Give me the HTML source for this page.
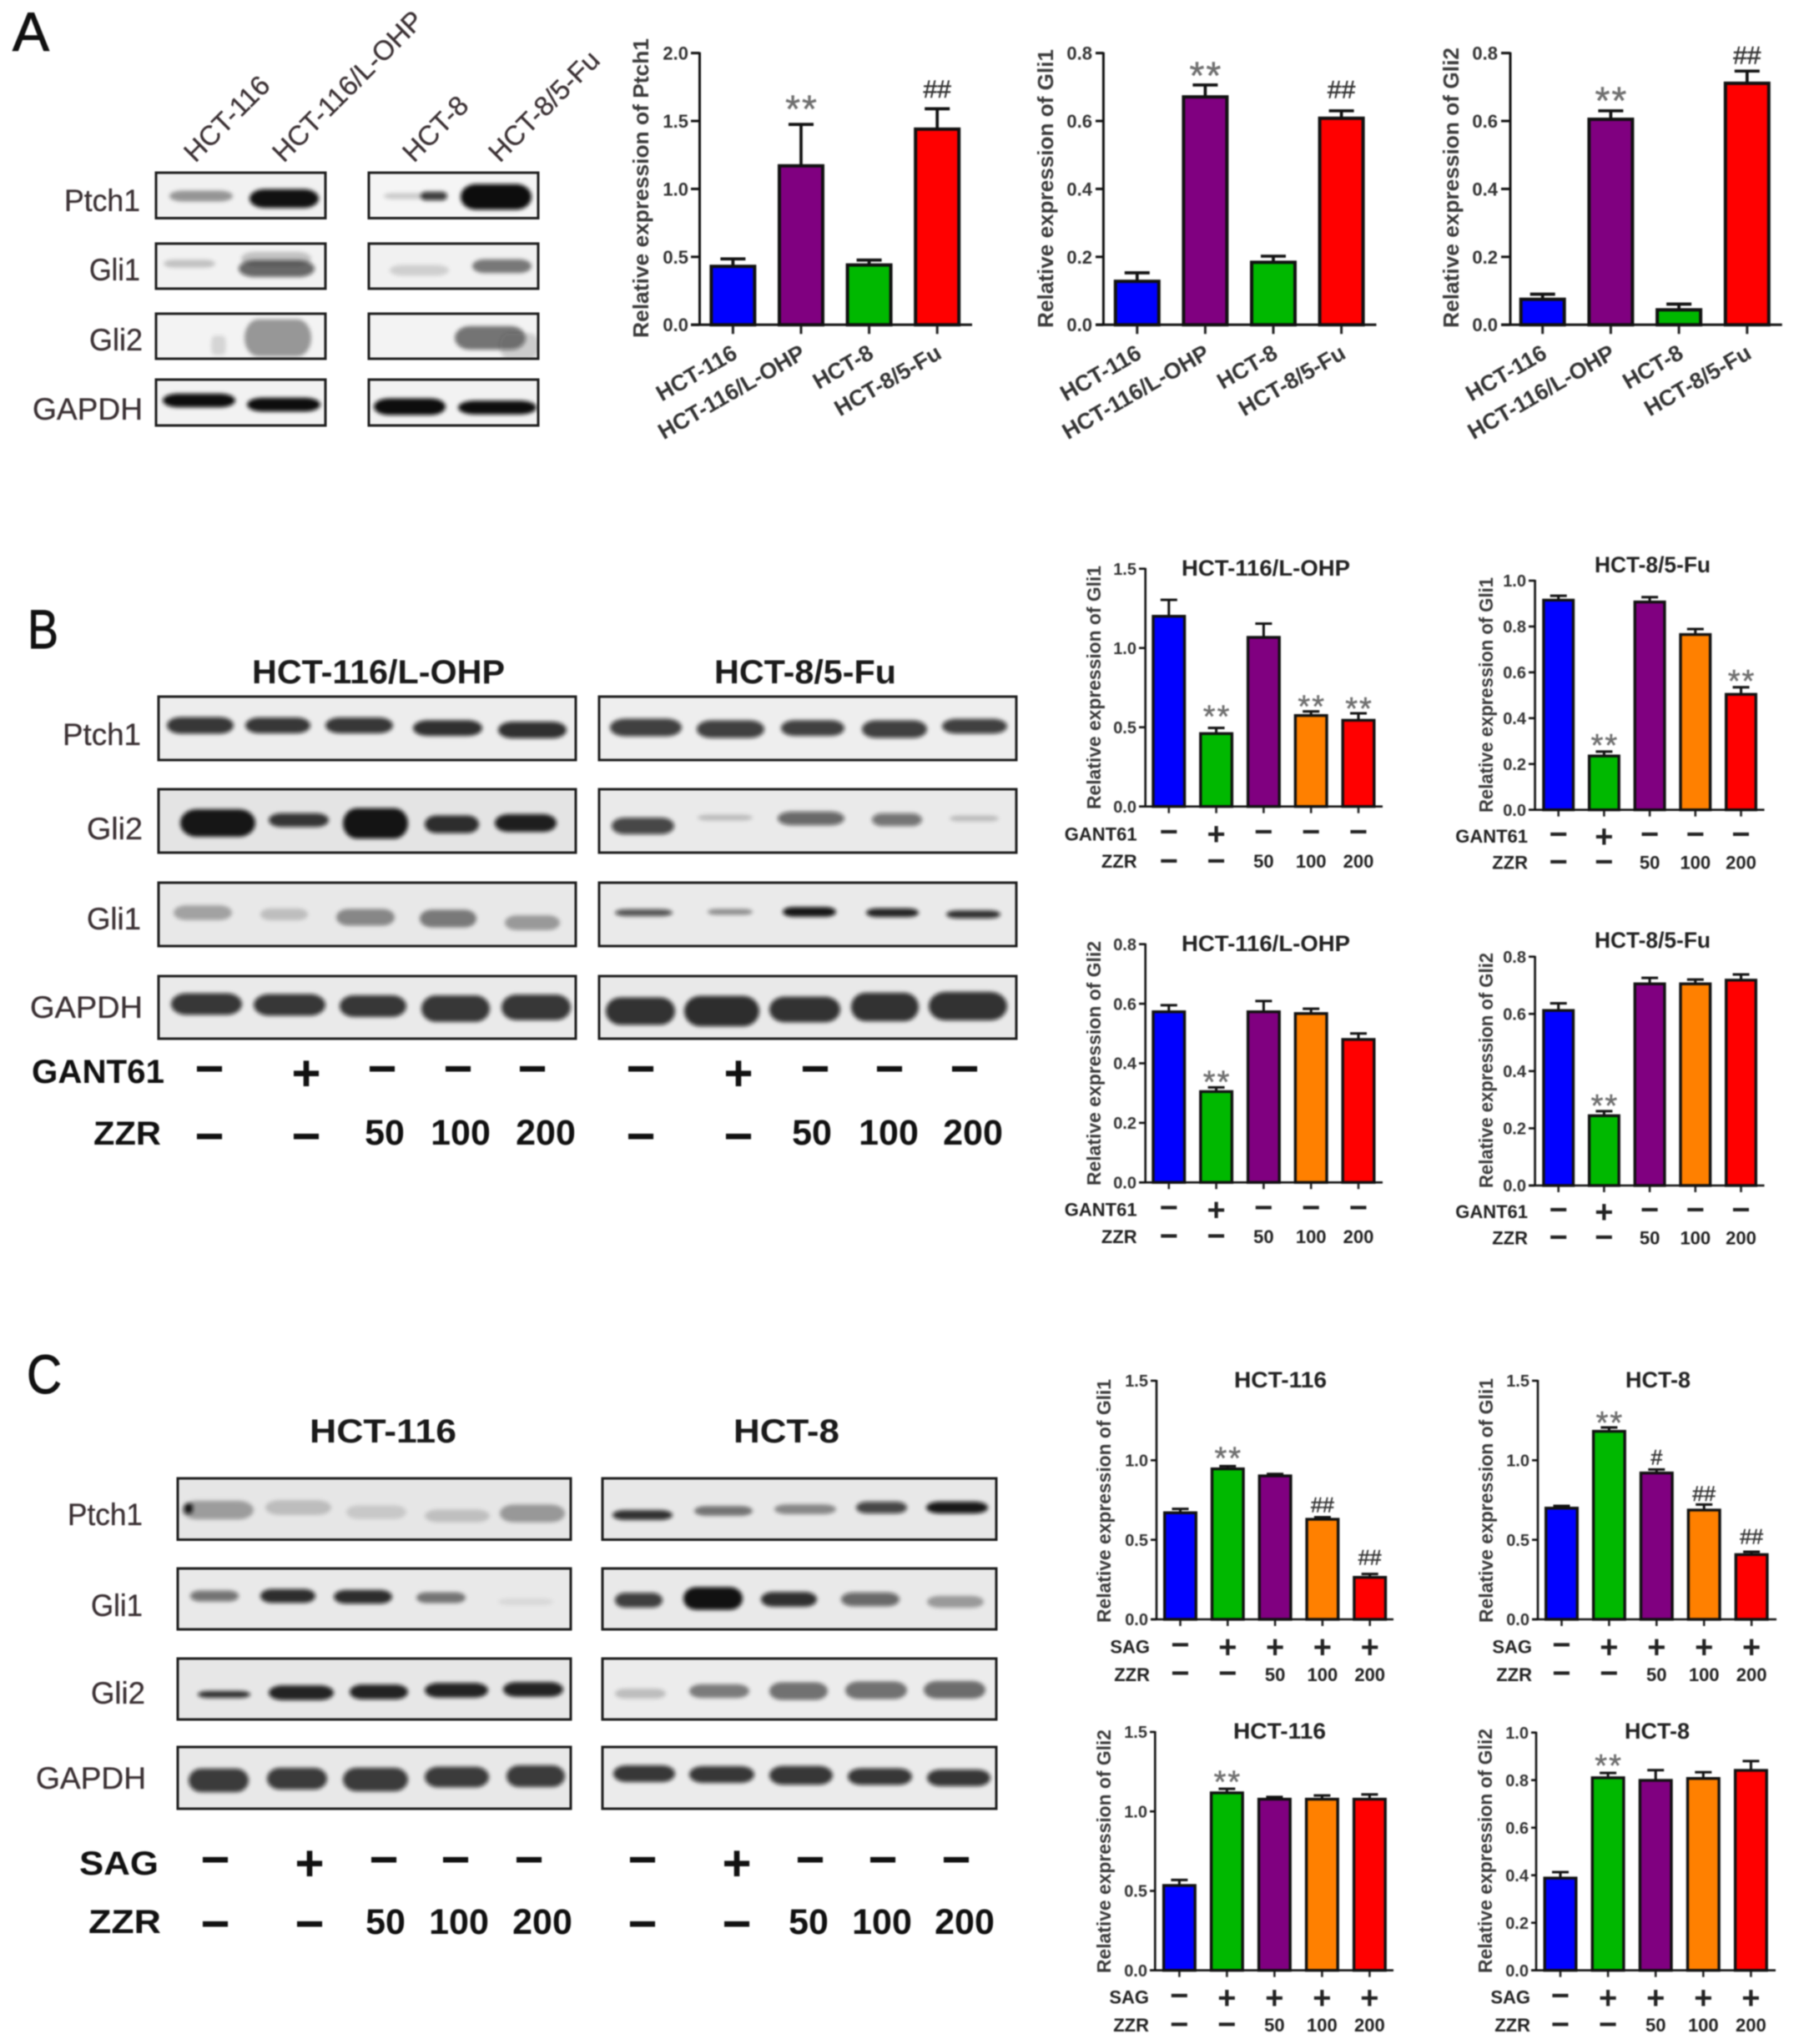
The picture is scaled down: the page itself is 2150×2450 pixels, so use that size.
<!DOCTYPE html>
<html lang="en">
<head>
<meta charset="utf-8">
<title>Western blots and relative expression bar charts</title>
<style>
html,body{margin:0;padding:0;background:#fff;}
#figure{display:block;width:2150px;height:2450px;background:#fff;filter:blur(0.8px);font-family:"Liberation Sans",sans-serif;}
text{font-family:"Liberation Sans",sans-serif;}
.letter{font-size:66px;fill:#111;stroke:#111;stroke-width:1;}
.row{font-size:37px;fill:#3a3033;stroke:#3a3033;stroke-width:.3;}
.lane{font-size:33px;fill:#3a3033;stroke:#3a3033;stroke-width:.3;}
.head{font-size:40px;font-weight:bold;fill:#1a1a1a;}
.treat{font-size:40px;font-weight:bold;fill:#111;}
</style>
</head>
<body>
<svg id="figure" xmlns="http://www.w3.org/2000/svg" width="2150" height="2450" viewBox="0 0 2150 2450">
<defs>
<filter id="soft" x="-10%" y="-100%" width="120%" height="300%"><feGaussianBlur stdDeviation="2.3"/></filter>
</defs>
<rect x="0" y="0" width="2150" height="2450" fill="#fff"/>

<text class="letter" x="15" y="61" textLength="44" lengthAdjust="spacingAndGlyphs">A</text>
<text class="letter" x="33" y="777" textLength="37" lengthAdjust="spacingAndGlyphs">B</text>
<text class="letter" x="32" y="1670" textLength="42" lengthAdjust="spacingAndGlyphs">C</text>

<text class="lane" transform="translate(234 196) rotate(-45)">HCT-116</text>
<text class="lane" transform="translate(340 196) rotate(-45)">HCT-116/L-OHP</text>
<text class="lane" transform="translate(496 196) rotate(-45)">HCT-8</text>
<text class="lane" transform="translate(599 196) rotate(-45)">HCT-8/5-Fu</text>

<text class="row" x="77" y="253" textLength="91" lengthAdjust="spacingAndGlyphs">Ptch1</text>
<text class="row" x="107" y="336" textLength="61" lengthAdjust="spacingAndGlyphs">Gli1</text>
<text class="row" x="107" y="420" textLength="64" lengthAdjust="spacingAndGlyphs">Gli2</text>
<text class="row" x="39" y="503" textLength="132" lengthAdjust="spacingAndGlyphs">GAPDH</text>

<text class="head" x="302" y="819" textLength="303" lengthAdjust="spacingAndGlyphs">HCT-116/L-OHP</text>
<text class="head" x="856" y="819" textLength="218" lengthAdjust="spacingAndGlyphs">HCT-8/5-Fu</text>
<text class="row" x="75" y="893" textLength="94" lengthAdjust="spacingAndGlyphs">Ptch1</text>
<text class="row" x="104" y="1006" textLength="67" lengthAdjust="spacingAndGlyphs">Gli2</text>
<text class="row" x="104" y="1114" textLength="65" lengthAdjust="spacingAndGlyphs">Gli1</text>
<text class="row" x="36" y="1220" textLength="135" lengthAdjust="spacingAndGlyphs">GAPDH</text>
<text class="treat" x="38" y="1298" textLength="159" lengthAdjust="spacingAndGlyphs">GANT61</text>
<text class="treat" x="112" y="1372" textLength="81" lengthAdjust="spacingAndGlyphs">ZZR</text>

<text class="head" x="371" y="1729" textLength="176" lengthAdjust="spacingAndGlyphs">HCT-116</text>
<text class="head" x="879" y="1729" textLength="127" lengthAdjust="spacingAndGlyphs">HCT-8</text>
<text class="row" x="81" y="1828" textLength="90" lengthAdjust="spacingAndGlyphs">Ptch1</text>
<text class="row" x="109" y="1937" textLength="62" lengthAdjust="spacingAndGlyphs">Gli1</text>
<text class="row" x="109" y="2042" textLength="65" lengthAdjust="spacingAndGlyphs">Gli2</text>
<text class="row" x="43" y="2144" textLength="132" lengthAdjust="spacingAndGlyphs">GAPDH</text>
<text class="treat" x="95" y="2247" textLength="95" lengthAdjust="spacingAndGlyphs">SAG</text>
<text class="treat" x="106" y="2317" textLength="87" lengthAdjust="spacingAndGlyphs">ZZR</text>
</svg>

<script>
// ---------- chart data ----------
const cellLines = ['HCT-116', 'HCT-116/L-OHP', 'HCT-8', 'HCT-8/5-Fu'];
const doseGroups = ['control', 'inhibitor', 'zzr-50', 'zzr-100', 'zzr-200'];

const gantRow = ['−', '+', '−', '−', '−'];
const sagRow = ['−', '+', '+', '+', '+'];
const zzrRow = ['−', '−', '50', '100', '200'];

const ticks20 = ['0.0', '0.5', '1.0', '1.5', '2.0'];
const ticks15 = ['0.0', '0.5', '1.0', '1.5'];
const ticks10 = ['0.0', '0.2', '0.4', '0.6', '0.8', '1.0'];
const ticks08 = ['0.0', '0.2', '0.4', '0.6', '0.8'];

const a1Values = [0.43, 1.17, 0.44, 1.44];
const a1Errors = [0.055, 0.305, 0.036, 0.15];
const a1Marks = ['', '**', '', '##'];

const a2Values = [0.128, 0.671, 0.184, 0.608];
const a2Errors = [0.025, 0.035, 0.018, 0.022];
const a2Marks = ['', '**', '', '##'];

const a3Values = [0.075, 0.605, 0.044, 0.711];
const a3Errors = [0.015, 0.025, 0.017, 0.036];
const a3Marks = ['', '**', '', '##'];

const b1Values = [1.2, 0.46, 1.067, 0.574, 0.544];
const b1Errors = [0.104, 0.036, 0.087, 0.026, 0.044];
const b1Marks = ['', '**', '', '**', '**'];

const b2Values = [0.915, 0.235, 0.907, 0.765, 0.504];
const b2Errors = [0.019, 0.019, 0.021, 0.024, 0.031];
const b2Marks = ['', '**', '', '', '**'];

const b3Values = [0.573, 0.305, 0.573, 0.567, 0.48];
const b3Errors = [0.022, 0.014, 0.036, 0.016, 0.02];
const b3Marks = ['', '**', '', '', ''];

const b4Values = [0.612, 0.244, 0.705, 0.705, 0.718];
const b4Errors = [0.025, 0.016, 0.021, 0.015, 0.02];
const b4Marks = ['', '**', '', '', ''];

const c1Values = [0.67, 0.946, 0.902, 0.629, 0.264];
const c1Errors = [0.024, 0.017, 0.012, 0.013, 0.021];
const c1Marks = ['', '**', '', '##', '##'];

const c2Values = [0.699, 1.182, 0.92, 0.687, 0.407];
const c2Errors = [0.014, 0.024, 0.022, 0.035, 0.018];
const c2Marks = ['', '**', '#', '##', '##'];

const c3Values = [0.534, 1.117, 1.077, 1.077, 1.077];
const c3Errors = [0.035, 0.025, 0.014, 0.023, 0.03];
const c3Marks = ['', '**', '', '', ''];

const c4Values = [0.388, 0.81, 0.799, 0.807, 0.841];
const c4Errors = [0.025, 0.02, 0.043, 0.026, 0.039];
const c4Marks = ['', '**', '', '', ''];

// ---------- layout ----------
const SVG_NS = 'http://www.w3.org/2000/svg';
const figure = document.getElementById('figure');
const BLUE = '#0000ff', PURPLE = '#800080', GREEN = '#00b800', RED = '#ff0000', ORANGE = '#ff8000';
const paletteA = [BLUE, PURPLE, GREEN, RED];
const paletteB = [BLUE, GREEN, PURPLE, ORANGE, RED];

function make(tag, attrs, parent, text) {
  const node = document.createElementNS(SVG_NS, tag);
  for (const key in attrs) node.setAttribute(key, attrs[key]);
  if (text !== undefined) node.textContent = text;
  parent.appendChild(node);
  return node;
}

const largeStyle = { axisW: 3, barSW: 4, barW: 56, capW: 30, errW: 3.7, tickLen: 11, tickFont: 22, titleFont: 26, starFont: 46, starSpace: 2, hashFont: 30 };
const smallStyle = { axisW: 2.6, barSW: 3.4, barW: 41, capW: 20, errW: 3, tickLen: 8, tickFont: 20, titleFont: 23, starFont: 38, starSpace: 2, hashFont: 25 };

function drawChart(id, cfg, style, data) {
  const group = make('g', {}, figure);
  
  

  const maxTick = Number(data.ticks[data.ticks.length - 1]);
  const yScale = function (v) { return cfg.y0 - (v / maxTick) * (cfg.y0 - cfg.yTop); };
  const xScale = function (i) { return cfg.x0 + i * cfg.step; };
  const barW = cfg.barW || style.barW;

  data.values.forEach(function (value, i) {
    const cx = xScale(i);
    const top = yScale(value + data.errors[i]);

    const errLine = make('line', { x1: cx, x2: cx, y1: yScale(value), y2: top, stroke: '#111', 'stroke-width': style.errW }, group);
    
    

    const errCap = make('line', { x1: cx - style.capW / 2, x2: cx + style.capW / 2, y1: top, y2: top, stroke: '#111', 'stroke-width': style.errW }, group);
    
    

    const bar = make('rect', {
      x: cx - barW / 2 + style.barSW / 2,
      y: yScale(value),
      width: barW - style.barSW,
      height: cfg.y0 - yScale(value),
      fill: cfg.palette[i],
      stroke: '#111',
      'stroke-width': style.barSW
    }, group);
    
    

    const xTick = make('line', { x1: cx, x2: cx, y1: cfg.y0, y2: cfg.y0 + style.tickLen, stroke: '#222', 'stroke-width': style.axisW }, group);
    
    

    const symbol = data.marks[i];
    if (symbol) {
      const isStar = symbol.charAt(0) === '*';
      const font = isStar ? style.starFont : style.hashFont;
      const centerY = top - cfg.markGaps[i];
      const mark = make('text', {
        x: cx + (isStar ? style.starSpace / 2 : 0),
        y: centerY + (isStar ? 0.47 : 0.35) * font,
        'text-anchor': 'middle',
        'font-size': font,
        'letter-spacing': isStar ? style.starSpace : 0,
        fill: isStar ? '#6f6f6f' : '#333',
        stroke: isStar ? '#6f6f6f' : '#333',
        'stroke-width': 0.5
      }, group, symbol);
      
      
    }
  });

  const yAxis = make('line', { x1: cfg.axisX, x2: cfg.axisX, y1: cfg.yTop - 1, y2: cfg.y0, stroke: '#111', 'stroke-width': style.axisW }, group);
  
  

  const xAxis = make('line', { x1: cfg.xStart, x2: cfg.xEnd, y1: cfg.y0, y2: cfg.y0, stroke: '#111', 'stroke-width': style.axisW }, group);
  
  

  data.ticks.forEach(function (label) {
    const py = yScale(Number(label));
    const tick = make('line', { x1: cfg.xStart, x2: cfg.axisX, y1: py, y2: py, stroke: '#111', 'stroke-width': style.axisW }, group);
    
    

    const tickText = make('text', {
      x: cfg.labelRight,
      y: py + style.tickFont * 0.36,
      'text-anchor': 'end',
      'font-size': style.tickFont,
      'font-weight': 'bold',
      fill: '#333'
    }, group, label);
    
    
  });

  const yTitle = make('text', {
    transform: 'translate(' + cfg.yTitleX + ' ' + cfg.yTitleBottom + ') rotate(-90)',
    'font-size': style.titleFont,
    'font-weight': 'bold',
    fill: '#3a3a3a',
    textLength: cfg.yTitleLen,
    lengthAdjust: 'spacingAndGlyphs'
  }, group, cfg.yTitle);
  
  

  if (cfg.title) {
    const title = make('text', {
      x: cfg.titleX,
      y: cfg.titleY,
      'font-size': 27,
      'font-weight': 'bold',
      fill: '#222',
      textLength: cfg.titleLen,
      lengthAdjust: 'spacingAndGlyphs'
    }, group, cfg.title);
    
    
  }

  if (data.rotatedLabels) {
    data.categories.forEach(function (label, i) {
      const lab = make('text', {
        transform: 'translate(' + (xScale(i) + 7) + ' ' + (cfg.y0 + 39) + ') rotate(-30)',
        'text-anchor': 'end',
        'font-size': 27,
        'font-weight': 'bold',
        fill: '#333'
      }, group, label);
      
      
    });
  }

  if (data.rows) {
    data.rows.forEach(function (row, r) {
      const rowLabel = make('text', {
        x: cfg.rowRight,
        y: cfg.rowBase[r],
        'text-anchor': 'end',
        'font-size': 22,
        'font-weight': 'bold',
        fill: '#222'
      }, group, row.name);
      
      

      row.labels.forEach(function (label, i) {
        const sign = label === '−' || label === '+';
        const size = sign ? 38 : 22;
        const py = sign ? cfg.rowDash[r] + 0.33 * size + (label === '+' ? 3 : 0) : cfg.rowBase[r];
        const cell = make('text', {
          x: xScale(i),
          y: py,
          'text-anchor': 'middle',
          'font-size': size,
          'font-weight': 'bold',
          fill: '#222'
        }, group, label);
        
        
      });
    });
  }
}

// Panel A charts
drawChart('a1', { x0: 878.4, step: 81.6, axisX: 838.5, xStart: 828, xEnd: 1165, y0: 389.3, yTop: 63.6, labelRight: 825, yTitleX: 777, yTitleBottom: 405, yTitleLen: 359, yTitle: 'Relative expression of Ptch1', palette: paletteA, markGaps: [0, 24, 0, 24] }, largeStyle,
  { categories: cellLines, values: a1Values, errors: a1Errors, marks: a1Marks, ticks: ticks20, rotatedLabels: true });
drawChart('a2', { x0: 1362.8, step: 81.6, axisX: 1322.4, xStart: 1313, xEnd: 1649.5, y0: 389.3, yTop: 63.6, labelRight: 1309, yTitleX: 1262, yTitleBottom: 393, yTitleLen: 334, yTitle: 'Relative expression of Gli1', palette: paletteA, markGaps: [0, 17, 0, 26] }, largeStyle,
  { categories: cellLines, values: a2Values, errors: a2Errors, marks: a2Marks, ticks: ticks08, rotatedLabels: true });
drawChart('a3', { x0: 1848.7, step: 81.7, axisX: 1810, xStart: 1799, xEnd: 2135.7, y0: 389.3, yTop: 63.6, labelRight: 1795, yTitleX: 1748, yTitleBottom: 393, yTitleLen: 336, yTitle: 'Relative expression of Gli2', palette: paletteA, markGaps: [0, 18, 0, 19] }, largeStyle,
  { categories: cellLines, values: a3Values, errors: a3Errors, marks: a3Marks, ticks: ticks08, rotatedLabels: true });

// Panel B charts
const gantRows = [{ name: 'GANT61', labels: gantRow }, { name: 'ZZR', labels: zzrRow }];
const sagRows = [{ name: 'SAG', labels: sagRow }, { name: 'ZZR', labels: zzrRow }];

drawChart('b1', { x0: 1400.8, step: 56.8, axisX: 1372.7, xStart: 1365, xEnd: 1657, y0: 966.7, yTop: 681.7, labelRight: 1362, yTitleX: 1319, yTitleBottom: 970, yTitleLen: 292, yTitle: 'Relative expression of Gli1', title: 'HCT-116/L-OHP', titleX: 1416, titleY: 690, titleLen: 202, palette: paletteB, markGaps: [0, 19, 0, 11, 11], rowRight: 1362.6, rowBase: [1007.7, 1040], rowDash: [997, 1032] }, smallStyle,
  { categories: doseGroups, values: b1Values, errors: b1Errors, marks: b1Marks, ticks: ticks15, rows: gantRows });
drawChart('b2', { x0: 1867.7, step: 54.7, barW: 39, axisX: 1839.6, xStart: 1832, xEnd: 2114.5, y0: 970.7, yTop: 696, labelRight: 1829, yTitleX: 1789, yTitleBottom: 974, yTitleLen: 282, yTitle: 'Relative expression of Gli1', title: 'HCT-8/5-Fu', titleX: 1911, titleY: 686, titleLen: 139, palette: paletteB, markGaps: [0, 12.7, 0, 0, 12.7], rowRight: 1831, rowBase: [1010, 1041.7], rowDash: [1000, 1033] }, smallStyle,
  { categories: doseGroups, values: b2Values, errors: b2Errors, marks: b2Marks, ticks: ticks10, rows: gantRows });
drawChart('b3', { x0: 1400.8, step: 56.8, axisX: 1372.7, xStart: 1365, xEnd: 1657, y0: 1417.3, yTop: 1131.7, labelRight: 1362, yTitleX: 1319, yTitleBottom: 1421, yTitleLen: 293, yTitle: 'Relative expression of Gli2', title: 'HCT-116/L-OHP', titleX: 1416, titleY: 1140, titleLen: 202, palette: paletteB, markGaps: [0, 11.7, 0, 0, 0], rowRight: 1362.6, rowBase: [1457.7, 1490], rowDash: [1447.7, 1481.7] }, smallStyle,
  { categories: doseGroups, values: b3Values, errors: b3Errors, marks: b3Marks, ticks: ticks08, rows: gantRows });
drawChart('b4', { x0: 1867.7, step: 54.7, barW: 39, axisX: 1839.6, xStart: 1832, xEnd: 2114.5, y0: 1421, yTop: 1146.7, labelRight: 1829, yTitleX: 1789, yTitleBottom: 1424, yTitleLen: 282, yTitle: 'Relative expression of Gli2', title: 'HCT-8/5-Fu', titleX: 1911, titleY: 1136, titleLen: 139, palette: paletteB, markGaps: [0, 11.7, 0, 0, 0], rowRight: 1831, rowBase: [1460, 1491.7], rowDash: [1450, 1483] }, smallStyle,
  { categories: doseGroups, values: b4Values, errors: b4Errors, marks: b4Marks, ticks: ticks08, rows: gantRows });

// Panel C charts
drawChart('c1', { x0: 1414.5, step: 56.8, axisX: 1386, xStart: 1379, xEnd: 1670, y0: 1941, yTop: 1655, labelRight: 1376, yTitleX: 1331, yTitleBottom: 1945, yTitleLen: 292, yTitle: 'Relative expression of Gli1', title: 'HCT-116', titleX: 1479, titleY: 1663, titleLen: 111, palette: paletteB, markGaps: [0, 14.7, 0, 15, 20], rowRight: 1378, rowBase: [1981.7, 2015], rowDash: [1971.7, 2005.7] }, smallStyle,
  { categories: doseGroups, values: c1Values, errors: c1Errors, marks: c1Marks, ticks: ticks15, rows: sagRows });
drawChart('c2', { x0: 1871.5, step: 56.9, axisX: 1843, xStart: 1836, xEnd: 2129, y0: 1941, yTop: 1655, labelRight: 1833, yTitleX: 1789, yTitleBottom: 1945, yTitleLen: 293, yTitle: 'Relative expression of Gli1', title: 'HCT-8', titleX: 1948, titleY: 1663, titleLen: 78, palette: paletteB, markGaps: [0, 11, 14.7, 13, 18], rowRight: 1836, rowBase: [1981.7, 2015], rowDash: [1971.7, 2005.7] }, smallStyle,
  { categories: doseGroups, values: c2Values, errors: c2Errors, marks: c2Marks, ticks: ticks15, rows: sagRows });
drawChart('c3', { x0: 1413.4, step: 57, axisX: 1384.3, xStart: 1378, xEnd: 1670, y0: 2361.7, yTop: 2076, labelRight: 1375, yTitleX: 1331, yTitleBottom: 2365, yTitleLen: 292, yTitle: 'Relative expression of Gli2', title: 'HCT-116', titleX: 1478, titleY: 2084, titleLen: 111, palette: paletteB, markGaps: [0, 13.7, 0, 0, 0], rowRight: 1377, rowBase: [2401.7, 2435], rowDash: [2392, 2426.7] }, smallStyle,
  { categories: doseGroups, values: c3Values, errors: c3Errors, marks: c3Marks, ticks: ticks15, rows: sagRows });
drawChart('c4', { x0: 1870, step: 57.1, axisX: 1841, xStart: 1835, xEnd: 2128, y0: 2361.7, yTop: 2076.7, labelRight: 1832, yTitleX: 1788, yTitleBottom: 2365, yTitleLen: 293, yTitle: 'Relative expression of Gli2', title: 'HCT-8', titleX: 1947, titleY: 2084, titleLen: 78, palette: paletteB, markGaps: [0, 14, 0, 0, 0], rowRight: 1834, rowBase: [2401.7, 2435], rowDash: [2392, 2426.7] }, smallStyle,
  { categories: doseGroups, values: c4Values, errors: c4Errors, marks: c4Marks, ticks: ticks10, rows: sagRows });

// ---------- western blot images (shapes only) ----------
// each band: x1, x2, centre y, height, darkness
const blots = [
  { id: 'a-ptch1-left', box: [187, 207, 203, 54.5], bg: '#f1f1f1', bands: [[204, 278, 235, 11, .38], [300, 381, 238, 19, .98]] },
  { id: 'a-ptch1-right', box: [442, 207, 203, 54.5], bg: '#f5f5f5', bands: [[461, 510, 235, 6, .18], [505, 535, 235, 9, .8], [553, 636, 236, 26, 1]] },
  { id: 'a-gli1-left', box: [187, 292, 203, 54], bg: '#f2f2f2', bands: [[197, 257, 316, 8, .2], [290, 372, 310, 14, .2], [287, 376, 322, 17, .62]] },
  { id: 'a-gli1-right', box: [442, 292, 203, 54], bg: '#f1f1f1', bands: [[468, 537, 324, 11, .14], [567, 636, 319, 14, .5]] },
  { id: 'a-gli2-left', box: [187, 376, 203, 54], bg: '#f3f3f3', bands: [[254, 270, 414, 20, .12], [294, 372, 405, 38, .38]] },
  { id: 'a-gli2-right', box: [442, 376, 203, 54], bg: '#f3f3f3', bands: [[546, 629, 405, 24, .52], [600, 645, 415, 26, .16]] },
  { id: 'a-gapdh-left', box: [187, 455, 203, 55], bg: '#f2f2f2', bands: [[196, 281, 480, 14, 1], [297, 383, 485, 14, 1]] },
  { id: 'a-gapdh-right', box: [442, 455, 203, 55], bg: '#f2f2f2', bands: [[449, 533, 487.5, 17, 1], [550, 642, 488.5, 14, 1]] },

  { id: 'b-ptch1-left', box: [190, 835, 500, 76], bg: '#ededed', bands: [[201, 279, 869.5, 17, .82], [295, 371, 869.5, 16, .82], [391, 470, 869.5, 16, .82], [496, 577, 872.7, 16, .85], [598, 678, 875, 17, .85]] },
  { id: 'b-ptch1-right', box: [718, 835, 500, 76], bg: '#eeeeee', bands: [[732, 816, 872, 18, .78], [836, 915, 874, 18, .78], [937, 1011, 872.7, 16, .78], [1034, 1110, 874, 18, .78], [1130, 1206, 870.5, 15, .78]] },
  { id: 'b-gli2-left', box: [190, 946, 500, 76], bg: '#e4e4e4', bands: [[217, 305, 986.5, 28, .96], [323, 393, 983, 14, .82], [412, 488, 987, 31, .97], [510, 573, 988, 18, .86], [594, 666, 986.5, 18, .92]] },
  { id: 'b-gli2-right', box: [718, 946, 500, 76], bg: '#eaeaea', bands: [[734, 807, 990, 17, .75], [837, 901, 980, 6, .2], [933, 1011, 981, 14, .6], [1046, 1104, 982.5, 13, .55], [1139, 1196, 981, 6, .2]] },
  { id: 'b-gli1-left', box: [190, 1058, 500, 76], bg: '#e8e8e8', bands: [[209, 277, 1094, 15, .3], [313, 368, 1096, 12, .18], [404, 472, 1099.5, 17, .42], [504, 570, 1101, 18, .48], [606, 670, 1106, 15, .34]] },
  { id: 'b-gli1-right', box: [718, 1058, 500, 76], bg: '#eaeaea', bands: [[738, 805, 1094, 7, .7], [849, 901, 1093, 6, .4], [939, 1001, 1093, 10, .96], [1039, 1100, 1094, 9, .9], [1135, 1198, 1096, 8, .85]] },
  { id: 'b-gapdh-left', box: [190, 1170, 500, 75], bg: '#eaeaea', bands: [[206, 289, 1203.5, 22, .82], [305, 389, 1204.5, 22, .82], [408, 486, 1206, 22, .82], [506, 586, 1209, 27, .82], [602, 683, 1207.5, 26, .82]] },
  { id: 'b-gapdh-right', box: [718, 1170, 500, 75], bg: '#e9e9e9', bands: [[727, 808, 1212, 28, .84], [821, 909, 1212, 31, .86], [923, 1006, 1210, 26, .84], [1021, 1100, 1207, 29, .84], [1114, 1206, 1206, 29, .84]] },

  { id: 'c-ptch1-left', box: [213, 1772, 471, 73.5], bg: '#e6e6e6', bands: [[219, 303, 1810, 19, .32], [222, 230, 1808, 10, .95], [319, 396, 1807, 15, .18], [416, 486, 1812.5, 14, .13], [510, 586, 1817, 13, .17], [600, 676, 1814, 18, .34]] },
  { id: 'c-ptch1-right', box: [722, 1772, 472, 73.5], bg: '#e8e8e8', bands: [[735, 805, 1816, 10, .85], [833, 901, 1811, 10, .5], [929, 1001, 1809, 10, .42], [1027, 1086, 1807, 12, .75], [1111, 1183, 1807, 12, .95]] },
  { id: 'c-gli1-left', box: [213, 1880, 471, 73], bg: '#e9e9e9', bands: [[229, 285, 1913, 11, .55], [313, 377, 1913, 14, .86], [401, 469, 1914, 14, .86], [500, 557, 1915, 11, .5], [598, 662, 1920, 7, .07]] },
  { id: 'c-gli1-right', box: [722, 1880, 472, 73], bg: '#e9e9e9', bands: [[738, 793, 1918, 15, .78], [820, 889, 1916, 23, .98], [913, 978, 1917, 15, .85], [1009, 1077, 1917, 14, .6], [1112, 1178, 1920, 12, .34]] },
  { id: 'c-gli2-left', box: [213, 1988, 471, 73], bg: '#e7e7e7', bands: [[238, 299, 2031, 7, .85], [323, 399, 2029, 15, .9], [420, 488, 2028, 15, .9], [510, 584, 2026, 15, .9], [604, 674, 2025, 15, .9]] },
  { id: 'c-gli2-right', box: [722, 1988, 472, 73], bg: '#ececec', bands: [[738, 797, 2030, 10, .2], [827, 897, 2027, 14, .48], [923, 991, 2027, 18, .52], [1014, 1086, 2026, 18, .52], [1108, 1180, 2025.5, 18, .54]] },
  { id: 'c-gapdh-left', box: [213, 2094, 471, 74], bg: '#e8e8e8', bands: [[227, 297, 2134, 24, .8], [321, 391, 2132, 22, .8], [412, 488, 2133, 24, .8], [510, 585, 2130, 21, .8], [608, 676, 2129, 22, .8]] },
  { id: 'c-gapdh-right', box: [722, 2094, 472, 74], bg: '#ebebeb', bands: [[736, 808, 2126, 17, .82], [827, 903, 2127, 17, .82], [923, 997, 2128, 19, .82], [1017, 1092, 2129.5, 17, .82], [1112, 1186, 2131, 17, .82]] }
];

blots.forEach(function (blot) {
  const holder = make('g', {}, figure);
  
  
  const b = blot.box;
  const inner = make('svg', { x: b[0], y: b[1], width: b[2], height: b[3], viewBox: b[0] + ' ' + b[1] + ' ' + b[2] + ' ' + b[3] }, holder);
  make('rect', { x: b[0], y: b[1], width: b[2], height: b[3], fill: blot.bg }, inner);
  const soft = make('g', { filter: 'url(#soft)' }, inner);
  blot.bands.forEach(function (band, i) {
    const h = band[3] * 1.18;
    const strip = make('rect', {
      x: band[0] - 1,
      y: band[2] - h / 2,
      width: band[1] - band[0] + 2,
      height: h,
      rx: (band[1] - band[0]) * 0.22,
      ry: h * 0.5,
      fill: '#0c0c0c',
      'fill-opacity': band[4]
    }, soft);
    
    
  });
  make('rect', { x: b[0], y: b[1], width: b[2], height: b[3], fill: 'none', stroke: '#1c1c1c', 'stroke-width': 3 }, holder);
});

// ---------- treatment rows under the blots ----------
function blotRow(id, xs, labels, dashY, plusY, baseY, numberXs) {
  labels.forEach(function (label, i) {
    const sign = label === '−' || label === '+';
    const size = sign ? 60 : 43;
    const py = sign ? (label === '+' ? plusY : dashY) + 0.33 * size : baseY;
    const px = sign ? xs[i] : numberXs[i];
    const cell = make('text', { x: px, y: py, 'text-anchor': 'middle', 'font-size': size, 'font-weight': 'bold', fill: '#111' }, figure, label);
    
    
  });
}

blotRow('b-gant-left', [251, 367, 458, 549, 638], gantRow, 1281, 1287, 1372, []);
blotRow('b-gant-right', [768, 885, 977, 1066, 1156], gantRow, 1281, 1287, 1372, []);
blotRow('b-zzr-left', [251, 367], zzrRow, 1362, 1362, 1372, [0, 0, 461, 552, 654]);
blotRow('b-zzr-right', [768, 885], zzrRow, 1362, 1362, 1372, [0, 0, 973, 1065, 1166]);
blotRow('c-sag-left', [258, 371, 460, 546, 634], gantRow, 2229, 2234, 2318, []);
blotRow('c-sag-right', [770, 883, 971, 1058, 1146], gantRow, 2229, 2234, 2318, []);
blotRow('c-zzr-left', [258, 371], zzrRow, 2306, 2306, 2318, [0, 0, 462, 550, 650]);
blotRow('c-zzr-right', [770, 883], zzrRow, 2306, 2306, 2318, [0, 0, 969, 1057, 1156]);
</script>
</body>
</html>
